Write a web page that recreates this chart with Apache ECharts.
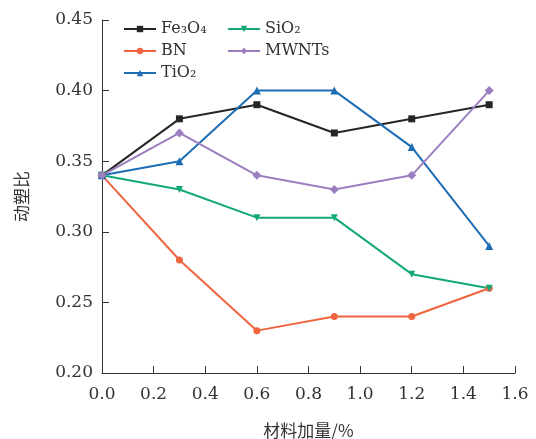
<!DOCTYPE html>
<html>
<head>
<meta charset="utf-8">
<script src="https://cdn.jsdelivr.net/npm/echarts@6/dist/echarts.min.js"></script>
<style>
  html, body { margin: 0; padding: 0; background: #fff; }
  #chart { width: 536px; height: 439px; }
</style>
</head>
<body>
<div id="chart"></div>
<script>
// 材料加量 (%)
const dosage = [0, 0.3, 0.6, 0.9, 1.2, 1.5]
// 动塑比
const fe3o4 = [0.34, 0.38, 0.39, 0.37, 0.38, 0.39]
const bn = [0.34, 0.28, 0.23, 0.24, 0.24, 0.26]
const tio2 = [0.34, 0.35, 0.40, 0.40, 0.36, 0.29]
const sio2 = [0.34, 0.33, 0.31, 0.31, 0.27, 0.26]
const mwnts = [0.34, 0.37, 0.34, 0.33, 0.34, 0.40]

const numFont = 'DejaVu Serif'
const cjkFont = 'Noto Sans CJK SC'

const chart = echarts.init(document.getElementById('chart'))

function pairs(arr) {
  return dosage.map((x, i) => [x, arr[i]])
}

function makeSeries(name, arr, color, symbol, size, rotate) {
  return {
    name: name,
    type: 'line',
    data: pairs(arr),
    symbol: symbol,
    symbolSize: size,
    symbolRotate: rotate || 0,
    lineStyle: { color: color, width: 2 },
    itemStyle: { color: color },
    animation: false
  }
}

const legendText = { fontFamily: numFont, fontSize: 16, color: '#333' }

const option = {
  backgroundColor: '#fff',
  grid: { left: 102, right: 21, top: 20, bottom: 66, outerBoundsMode: 'none', containLabel: false },
  legend: [
    {
      data: ['Fe₃O₄', 'BN', 'TiO₂'],
      orient: 'vertical',
      left: 118, top: 16,
      itemWidth: 32, itemHeight: 8, itemGap: 6,
      textStyle: legendText
    },
    {
      data: ['SiO₂', 'MWNTs'],
      orient: 'vertical',
      left: 222, top: 16,
      itemWidth: 32, itemHeight: 8, itemGap: 6,
      textStyle: legendText
    }
  ],
  xAxis: {
    type: 'value',
    min: 0, max: 1.6, interval: 0.2,
    name: '材料加量/%',
    nameLocation: 'middle',
    nameGap: 49,
    nameTextStyle: { fontFamily: cjkFont, fontSize: 17, color: '#333' },
    axisLine: { lineStyle: { color: '#333', width: 1 } },
    axisTick: { inside: true, length: 7, lineStyle: { color: '#333' } },
    axisLabel: {
      fontFamily: numFont, fontSize: 17, color: '#333', margin: 13,
      formatter: v => v.toFixed(1)
    },
    splitLine: { show: false }
  },
  yAxis: {
    type: 'value',
    min: 0.2, max: 0.45, interval: 0.05,
    name: '动塑比',
    nameLocation: 'middle',
    nameGap: 72,
    nameRotate: 90,
    nameTextStyle: { fontFamily: cjkFont, fontSize: 17, color: '#333' },
    axisLine: { show: true, lineStyle: { color: '#333', width: 1 } },
    axisTick: { show: true, inside: true, length: 7, lineStyle: { color: '#333' } },
    axisLabel: {
      fontFamily: numFont, fontSize: 17, color: '#333', margin: 9,
      formatter: v => v.toFixed(2)
    },
    splitLine: { show: false }
  },
  series: [
    makeSeries('Fe₃O₄', fe3o4, '#262626', 'rect', 7),
    makeSeries('BN', bn, '#f0653f', 'circle', 7),
    makeSeries('TiO₂', tio2, '#1c6db4', 'triangle', 8),
    makeSeries('SiO₂', sio2, '#13a878', 'triangle', 7, 180),
    makeSeries('MWNTs', mwnts, '#9c7ec0', 'diamond', 9)
  ]
}

chart.setOption(option)
</script>
</body>
</html>
